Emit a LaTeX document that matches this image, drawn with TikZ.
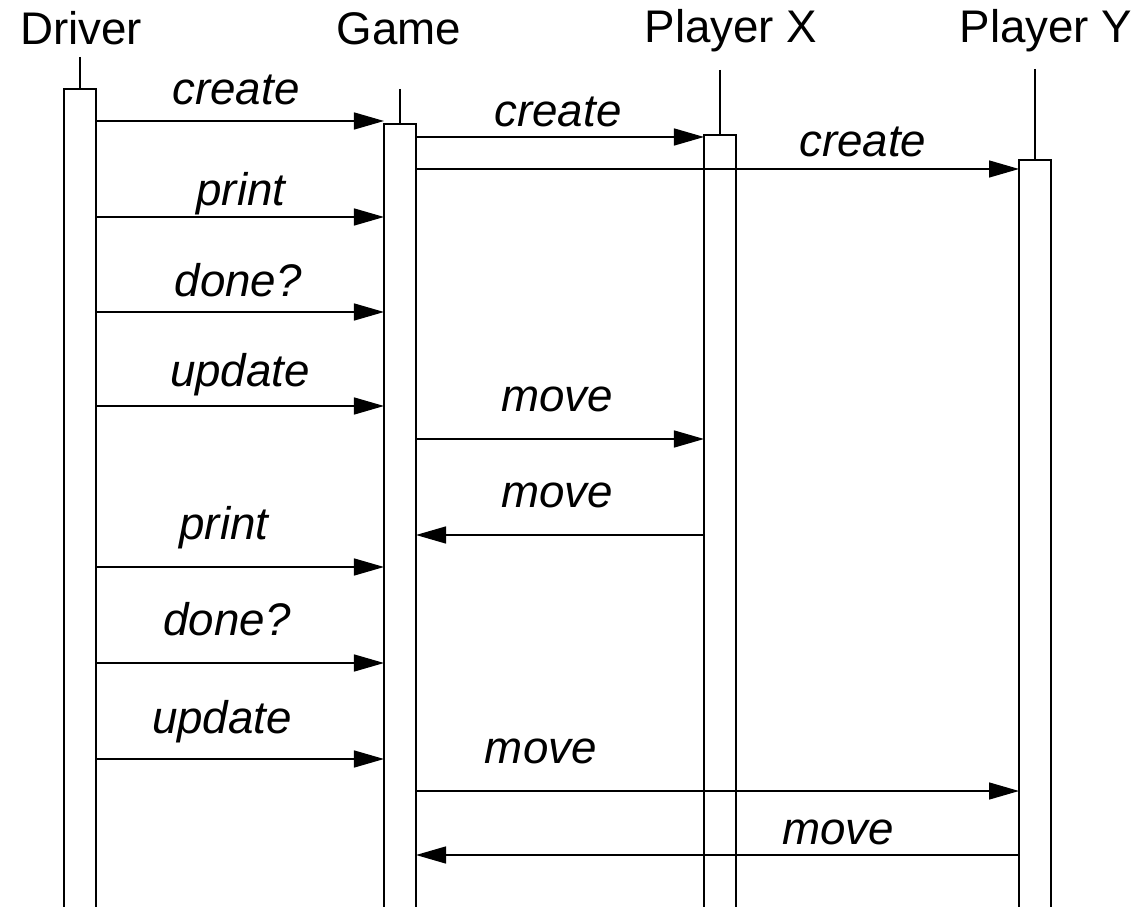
\documentclass[tikz,border=0pt]{standalone}
\usepackage{fontspec}
\setmainfont{Liberation Sans}
\usetikzlibrary{arrows.meta}

\begin{document}
\begin{tikzpicture}[x=0.01cm, y=-0.01cm, line width=0.4pt,
  font=\fontsize{13}{15}\selectfont,
  title/.style={anchor=base, inner sep=0pt},
  msg/.style={-{Triangle[length=0.3cm,width=0.17cm]}},
  lab/.style={anchor=base, inner sep=0pt, yshift=#1*0.01cm,
    font=\fontsize{13}{15}\selectfont\itshape}]

\useasboundingbox (0,0) rectangle (1140,907);

\node[title] (drvname) at (81,45) {Driver};
\node[title] (gamename) at (399,45) {Game};
\node[title] (pxname) at (731,43) {Player X};
\node[title] (pyname) at (1046,43) {Player Y};

% lifelines: stem, then open box down to the bottom edge
\foreach \name/\x/\stem/\top in {drv/80/57/89, game/400/89/124,
    px/720/70/135, py/1035/69/160} {
  \coordinate (\name) at (\x,\top);
  \coordinate (\name-l) at (\x-16,907);
  \coordinate (\name-r) at (\x+16,907);
  \draw (\x,\stem) -- (\name);
  \draw (\name-l) |- (\name-r |- \name) -- (\name-r);
}

\foreach \row/\y in {1/121, 2/137, 3/169, 4/217, 5/312, 6/406, 7/439,
    8/535, 9/567, 10/663, 11/759, 12/791, 13/855}
  \coordinate (r\row) at (0,\y);

\draw[msg] (drv-r |- r1) -- (game-l |- r1) node[lab=16, pos=.486] {create};
\draw[msg] (game-r |- r2) -- (px-l |- r2) node[lab=10, pos=.493] {create};
\draw[msg] (game-r |- r3) -- (py-l |- r3) node[lab=12, pos=.741] {create};
\draw[msg] (drv-r |- r4) -- (game-l |- r4) node[lab=11, pos=.503] {print};
\draw[msg] (drv-r |- r5) -- (game-l |- r5) node[lab=15, pos=.494] {done?};
\draw[msg] (drv-r |- r6) -- (game-l |- r6) node[lab=19, pos=.5] {update};
\draw[msg] (game-r |- r7) -- (px-l |- r7) node[lab=27, pos=.49] {move};
\draw[msg] (px-l |- r8) -- (game-r |- r8) node[lab=27, pos=.51] {move};
\draw[msg] (drv-r |- r9) -- (game-l |- r9) node[lab=27, pos=.444] {print};
\draw[msg] (drv-r |- r10) -- (game-l |- r10) node[lab=28, pos=.455] {done?};
\draw[msg] (drv-r |- r11) -- (game-l |- r11) node[lab=26, pos=.4375] {update};
\draw[msg] (game-r |- r12) -- (py-l |- r12) node[lab=28, pos=.207] {move};
\draw[msg] (py-l |- r13) -- (game-r |- r13) node[lab=11, pos=.30] {move};

\end{tikzpicture}
\end{document}
